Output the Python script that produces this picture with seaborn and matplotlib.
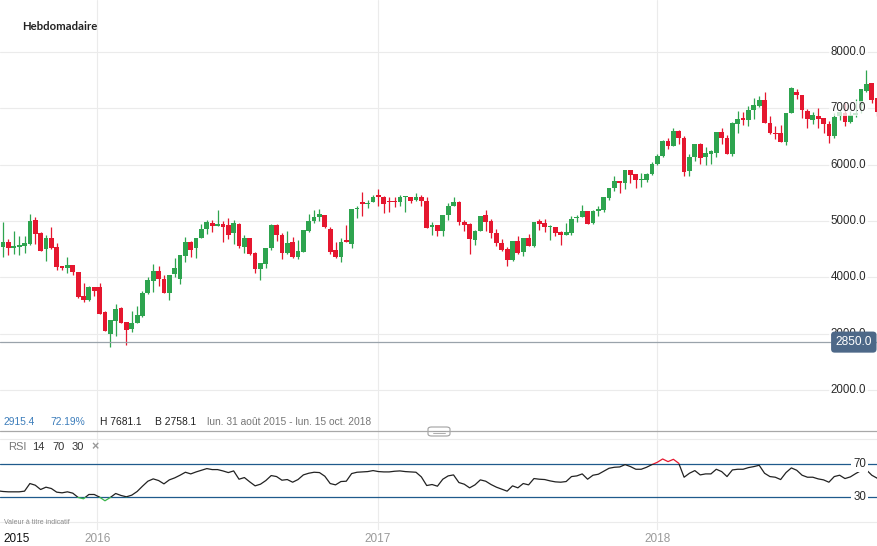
import numpy as np
import pandas as pd
import matplotlib
matplotlib.use('Agg')
import matplotlib.pyplot as plt
import matplotlib.dates as mdates
import matplotlib.transforms as mtransforms
from matplotlib.patches import Rectangle, FancyBboxPatch
from matplotlib.lines import Line2D
import seaborn as sns

# Données hebdomadaires, semaine du lundi 24 août 2015 au 15 oct. 2018
dates = pd.date_range('2015-08-24', periods=165, freq='7D')

opens = [4050, 4536, 4619, 4518, 4536, 4554, 4589, 5012, 4780, 4494,
         4690, 4530, 4208, 4161, 4226, 4101, 3673, 3589, 3833, 3833,
         3387, 3000, 3226, 3458, 3214, 3083, 3196, 3315, 3726, 3940,
         4108, 3976, 3719, 4054, 3970, 4377, 4629, 4527, 4695, 4850,
         4970, 4904, 4952, 4922, 4790, 4952, 4545, 4701, 4431, 4150,
         4239, 4527, 4922, 4760, 4437, 4633, 4367, 4456, 4828, 4994,
         5065, 5112, 4858, 4491, 4367, 4669, 4592, 5207, 5343, 5296,
         5343, 5467, 5432, 5343, 5361, 5331, 5432, 5432, 5379, 5432,
         5361, 4888, 4929, 4817, 5107, 5260, 5343, 4988, 4941, 4657,
         4817, 5112, 5006, 4793, 4615, 4509, 4314, 4645, 4456, 4704,
         4562, 5006, 4970, 4899, 4899, 4811, 4757, 4781, 5053, 5077,
         5183, 4959, 5172, 5194, 5400, 5582, 5706, 5676, 5900, 5829,
         5729, 5729, 5835, 6012, 6147, 6424, 6335, 6606, 6482, 5888,
         6135, 6359, 6135, 6188, 6200, 6588, 6482, 6189, 6728, 6828,
         6793, 6970, 7041, 7154, 6746, 6568, 6556, 6408, 6923, 7290,
         7237, 6953, 6787, 6864, 6822, 6716, 6509, 6864, 6923, 6763,
         6876, 7059, 7308, 7444, 7189]
highs = [4560, 4982, 4685, 4815, 4726, 4726, 5131, 5071, 4798, 4750,
         4893, 4601, 4208, 4369, 4226, 4101, 3905, 3851, 3833, 3905,
         3405, 3244, 3524, 3476, 3214, 3405, 3494, 3762, 4012, 4240,
         4198, 4036, 4048, 4341, 4389, 4707, 4647, 4701, 4952, 5024,
         5024, 5204, 4994, 5060, 5018, 4970, 4754, 4701, 4449, 4251,
         4521, 4940, 4946, 4778, 4814, 4710, 4663, 4840, 5124, 5195,
         5219, 5112, 4899, 4633, 4698, 4935, 5219, 5272, 5521, 5379,
         5467, 5574, 5450, 5432, 5432, 5467, 5450, 5432, 5497, 5467,
         5420, 4988, 4929, 5112, 5320, 5420, 5361, 5024, 4959, 4846,
         5095, 5201, 5041, 4864, 4686, 4533, 4651, 4740, 4704, 4775,
         4988, 5041, 5041, 4935, 4899, 4828, 4970, 5095, 5112, 5290,
         5183, 5195, 5272, 5424, 5582, 5794, 5718, 5900, 5900, 5829,
         5853, 5847, 6041, 6188, 6441, 6471, 6647, 6624, 6500, 6188,
         6359, 6376, 6306, 6265, 6588, 6647, 6518, 6757, 6953, 6935,
         7041, 7183, 7219, 7290, 6864, 6686, 6698, 6911, 7379, 7349,
         7237, 6982, 6941, 7000, 6822, 6775, 6923, 6990, 7100, 6953,
         7160, 7349, 7681, 7444, 7189]
lows = [4000, 4357, 4400, 4417, 4400, 4430, 4565, 4589, 4464, 4286,
        4506, 4137, 4137, 4071, 4048, 3640, 3565, 3583, 3661, 3357,
        3048, 2758, 2964, 3196, 2798, 3036, 3185, 3304, 3700, 3737,
        3838, 3719, 3599, 4000, 3880, 4270, 4365, 4341, 4695, 4766,
        4796, 4904, 4635, 4689, 4599, 4527, 4437, 4395, 4078, 3952,
        4168, 4485, 4647, 4329, 4419, 4337, 4320, 4444, 4811, 4959,
        5006, 4870, 4414, 4350, 4278, 4621, 4515, 5047, 5095, 5225,
        5331, 5272, 5136, 5166, 5242, 5260, 5166, 5314, 5349, 5272,
        4870, 4757, 4728, 4728, 5024, 5260, 4935, 4828, 4408, 4580,
        4817, 4828, 4692, 4550, 4462, 4207, 4284, 4408, 4385, 4562,
        4544, 4846, 4811, 4669, 4728, 4580, 4746, 4757, 4976, 5065,
        4941, 4941, 5095, 5165, 5371, 5529, 5500, 5571, 5676, 5588,
        5606, 5694, 5824, 6000, 6135, 6276, 6324, 6365, 5806, 5806,
        6059, 6018, 6000, 6018, 6135, 6365, 6188, 6150, 6568, 6704,
        6686, 6817, 7030, 6746, 6545, 6450, 6408, 6343, 6911, 7160,
        6834, 6645, 6728, 6645, 6568, 6391, 6479, 6800, 6686, 6746,
        6846, 6923, 7296, 7100, 6864]
closes = [4450, 4619, 4518, 4548, 4571, 4607, 4994, 4774, 4476, 4690,
          4518, 4179, 4161, 4226, 4095, 3650, 3589, 3833, 3750, 3357,
          3054, 3244, 3446, 3196, 3065, 3185, 3333, 3726, 3950, 4108,
          3976, 3719, 4048, 4162, 4389, 4629, 4485, 4701, 4856, 4982,
          4904, 4952, 4886, 4760, 4970, 4563, 4701, 4413, 4150, 4251,
          4521, 4922, 4743, 4437, 4617, 4367, 4473, 4840, 5006, 5077,
          5118, 4888, 4444, 4367, 4633, 4621, 5219, 5225, 5296, 5325,
          5432, 5420, 5308, 5331, 5331, 5432, 5444, 5361, 5420, 5349,
          4870, 4929, 4817, 5112, 5272, 5343, 4976, 4923, 4675, 4828,
          5095, 4988, 4781, 4609, 4491, 4314, 4651, 4432, 4704, 4562,
          4988, 4953, 4888, 4911, 4793, 4757, 4811, 5041, 5077, 5183,
          4941, 5183, 5219, 5424, 5582, 5706, 5676, 5900, 5818, 5729,
          5741, 5829, 6006, 6159, 6424, 6324, 6606, 6471, 5871, 6141,
          6359, 6118, 6200, 6235, 6571, 6471, 6188, 6746, 6817, 6787,
          6970, 7059, 7154, 6746, 6568, 6550, 6408, 6911, 7361, 7237,
          6964, 6805, 6882, 6805, 6716, 6509, 6846, 6935, 6757, 6876,
          6923, 7349, 7426, 7142, 6935]

rsi = [38.0, 37.2, 36.8, 36.8, 36.8, 37.6, 46.8, 44.8, 39.6, 42.4,
       40.8, 36.4, 35.6, 36.8, 35.2, 30.0, 28.4, 33.6, 33.6, 30.4,
       26.0, 30.0, 34.8, 32.4, 30.8, 32.8, 37.2, 43.6, 49.6, 52.4,
       50.4, 46.4, 51.2, 53.6, 56.8, 60.4, 58.4, 60.8, 62.8, 64.8,
       63.6, 63.6, 62.0, 60.0, 62.0, 52.0, 54.0, 48.8, 44.0, 46.0,
       50.4, 56.4, 55.2, 50.8, 51.6, 48.4, 51.6, 57.2, 59.2, 60.4,
       60.0, 55.6, 46.8, 45.2, 49.2, 49.6, 58.8, 60.4, 60.8, 61.2,
       62.4, 61.2, 60.8, 60.8, 61.6, 62.0, 61.2, 60.8, 60.4, 54.8,
       44.4, 45.6, 43.6, 52.0, 56.0, 57.2, 48.0, 46.0, 41.6, 45.2,
       51.2, 49.6, 45.6, 42.4, 40.0, 37.6, 44.0, 41.6, 46.8, 45.2,
       52.8, 52.0, 51.6, 50.0, 48.8, 48.4, 49.2, 55.2, 56.0, 58.4,
       52.0, 56.8, 58.0, 61.6, 65.2, 66.4, 66.8, 69.6, 67.2, 64.0,
       64.0, 66.4, 69.6, 72.4, 76.4, 73.2, 76.0, 71.2, 54.4, 59.2,
       62.4, 57.2, 58.4, 58.4, 64.0, 61.2, 55.2, 63.2, 64.0, 64.0,
       66.0, 67.2, 68.8, 59.2, 55.2, 54.4, 51.6, 60.0, 65.6, 62.8,
       56.8, 54.4, 54.4, 52.4, 51.2, 48.4, 55.2, 56.8, 52.8, 54.8,
       58.8, 62.4, 63.2, 56.8, 53.2]

annees = ['2016', '2017', '2018']
niveaux_prix = [2000, 3000, 4000, 5000, 6000, 7000, 8000]

VERT = '#2ea44f'
ROUGE = '#e5172f'
GRILLE = '#ebebeb'
BLEU_RSI = '#1f5a8c'

sns.set_theme(style='white')
plt.rcParams['font.family'] = ['Liberation Sans', 'DejaVu Sans']

W, H = 877, 546
fig = plt.figure(figsize=(W / 100, H / 100), dpi=100)
fig.patch.set_facecolor('white')

def rect_px(top, bottom):
    return [0, 1 - bottom / H, 1, (bottom - top) / H]

ax = fig.add_axes(rect_px(0, 431))
ax_rsi = fig.add_axes(rect_px(431, 530), sharex=ax)

x = mdates.date2num(dates)
ref = mdates.date2num(pd.Timestamp('2016-01-01'))
px_jour = 560.0 / 731.0
ax.set_xlim(ref - 97.3 / px_jour, ref + (W - 97.3) / px_jour)
ax.set_ylim(1272, 8923)
ax_rsi.set_ylim(-9.2, 110.1)

for a in (ax, ax_rsi):
    a.set_facecolor('none')
    for s in a.spines.values():
        s.set_visible(False)
    a.tick_params(left=False, bottom=False, labelleft=False, labelbottom=False)
    for an in annees:
        a.axvline(mdates.date2num(pd.Timestamp(an + '-01-01')), color=GRILLE, lw=0.8, zorder=0)

# grille horizontale + libellés à droite
droite = mtransforms.blended_transform_factory(ax.transAxes, ax.transData)
for v in niveaux_prix:
    ax.axhline(v, color=GRILLE, lw=0.8, zorder=0)
    ax.text(866 / W, v, f'{v:.1f}', transform=droite, ha='right', va='center',
            fontsize=8.3, color='#2a2a2a', zorder=6,
            bbox=dict(boxstyle='square,pad=0.15', fc='white', ec='none', alpha=0.75))

# chandeliers
o = np.array(opens, float)
c = np.array(closes, float)
couleurs = [VERT if cc >= oo else ROUGE for oo, cc in zip(o, c)]
ax.vlines(x, lows, highs, colors=couleurs, lw=0.9, zorder=3)
corps = np.maximum(np.abs(c - o), 18)
ax.bar(x, corps, bottom=np.minimum(o, c), width=6.2, color=couleurs, linewidth=0, zorder=4)

# ligne horizontale 2850
ax.axhline(2850, color='#9aa3ab', lw=0.9, zorder=5)
ax.text(872 / W, 2850, '2850.0', transform=droite, ha='right', va='center',
        fontsize=8.6, color='white', zorder=7,
        bbox=dict(boxstyle='round,pad=0.38,rounding_size=0.3', fc='#4d6888', ec='none'))

# titre
fig.text(22 / W, 1 - 27 / H, 'Hebdomadaire', fontsize=8.2, fontweight='bold',
         color='#222222', va='center', family=['Lato', 'DejaVu Sans'])

# ligne de stats
y_stats = 1 - 422 / H
fig.text(4 / W, y_stats, '2915.4', fontsize=7.4, color='#3c7dbb', va='center')
fig.text(50 / W, y_stats, '72.19%', fontsize=7.4, color='#3c7dbb', va='center')
fig.text(100 / W, y_stats, 'H 7681.1', fontsize=7.4, color='#222222', va='center')
fig.text(155 / W, y_stats, 'B 2758.1', fontsize=7.4, color='#222222', va='center')
fig.text(207 / W, y_stats, 'lun. 31 août 2015 - lun. 15 oct. 2018', fontsize=7.4,
         color='#777777', va='center')

# séparateur des panneaux
fig.add_artist(Line2D([0, 1], [1 - 431 / H] * 2, color='#a8a8a8', lw=0.9))
fig.add_artist(FancyBboxPatch((428 / W, 1 - 436 / H), 22 / W, 9 / H,
                              boxstyle='round,pad=0,rounding_size=0.004',
                              fc='white', ec='#a0a0a0', lw=0.8))
for yy in (430.5, 432.5):
    fig.add_artist(Line2D([433 / W, 445 / W], [1 - yy / H] * 2, color='#a0a0a0', lw=0.6))

# RSI
y_rsi = 1 - 447 / H
fig.text(8 / W, y_rsi, 'RSI', fontsize=8, color='#777777', va='center')
fig.text(32 / W, y_rsi, '14', fontsize=8, color='#333333', va='center')
fig.text(52 / W, y_rsi, '70', fontsize=8, color='#333333', va='center')
fig.text(72 / W, y_rsi, '30', fontsize=8, color='#333333', va='center')
fig.text(91 / W, y_rsi, '×', fontsize=9, color='#999999', va='center', fontweight='bold')

for v in (0, 100):
    ax_rsi.axhline(v, color=GRILLE, lw=0.8, zorder=0)
for v in (30, 70):
    ax_rsi.axhline(v, color=BLEU_RSI, lw=0.9, zorder=1)
    ax_rsi.text(866 / W, v, str(v), transform=mtransforms.blended_transform_factory(
        ax_rsi.transAxes, ax_rsi.transData), ha='right', va='center', fontsize=8.3,
        color='#2a2a2a', zorder=6, bbox=dict(boxstyle='square,pad=0.15', fc='white', ec='none'))

df_rsi = pd.DataFrame({'date': x, 'rsi': rsi})
x0, x1 = ax.get_xlim()
for coul, bas, haut in (('#222222', 30, 70), (ROUGE, 70, 200), ('#39b54a', -100, 30)):
    sns.lineplot(data=df_rsi, x='date', y='rsi', ax=ax_rsi, color=coul, lw=0.9, zorder=3)
    ligne = ax_rsi.lines[-1]
    ligne.set_clip_path(Rectangle((x0, bas), x1 - x0, haut - bas, transform=ax_rsi.transData))
ax_rsi.set_xlabel('')
ax_rsi.set_ylabel('')
ax_rsi.set_xlim(x0, x1)
ax_rsi.set_ylim(-9.2, 110.1)

fig.text(4 / W, 1 - 523 / H, 'Valeur à titre indicatif', fontsize=5, color='#8a8a8a', va='center')

# axe des années
bas_axe = mtransforms.blended_transform_factory(ax_rsi.transData, fig.transFigure)
fig.text(3 / W, 1 - 539 / H, '2015', fontsize=8.5, color='#111111', va='center')
for an in annees:
    ax_rsi.text(mdates.date2num(pd.Timestamp(an + '-01-01')), 1 - 539 / H, an,
                transform=bas_axe, ha='center', va='center', fontsize=8.5, color='#9a9a9a')

fig.savefig('out.png', dpi=100, facecolor='white')
